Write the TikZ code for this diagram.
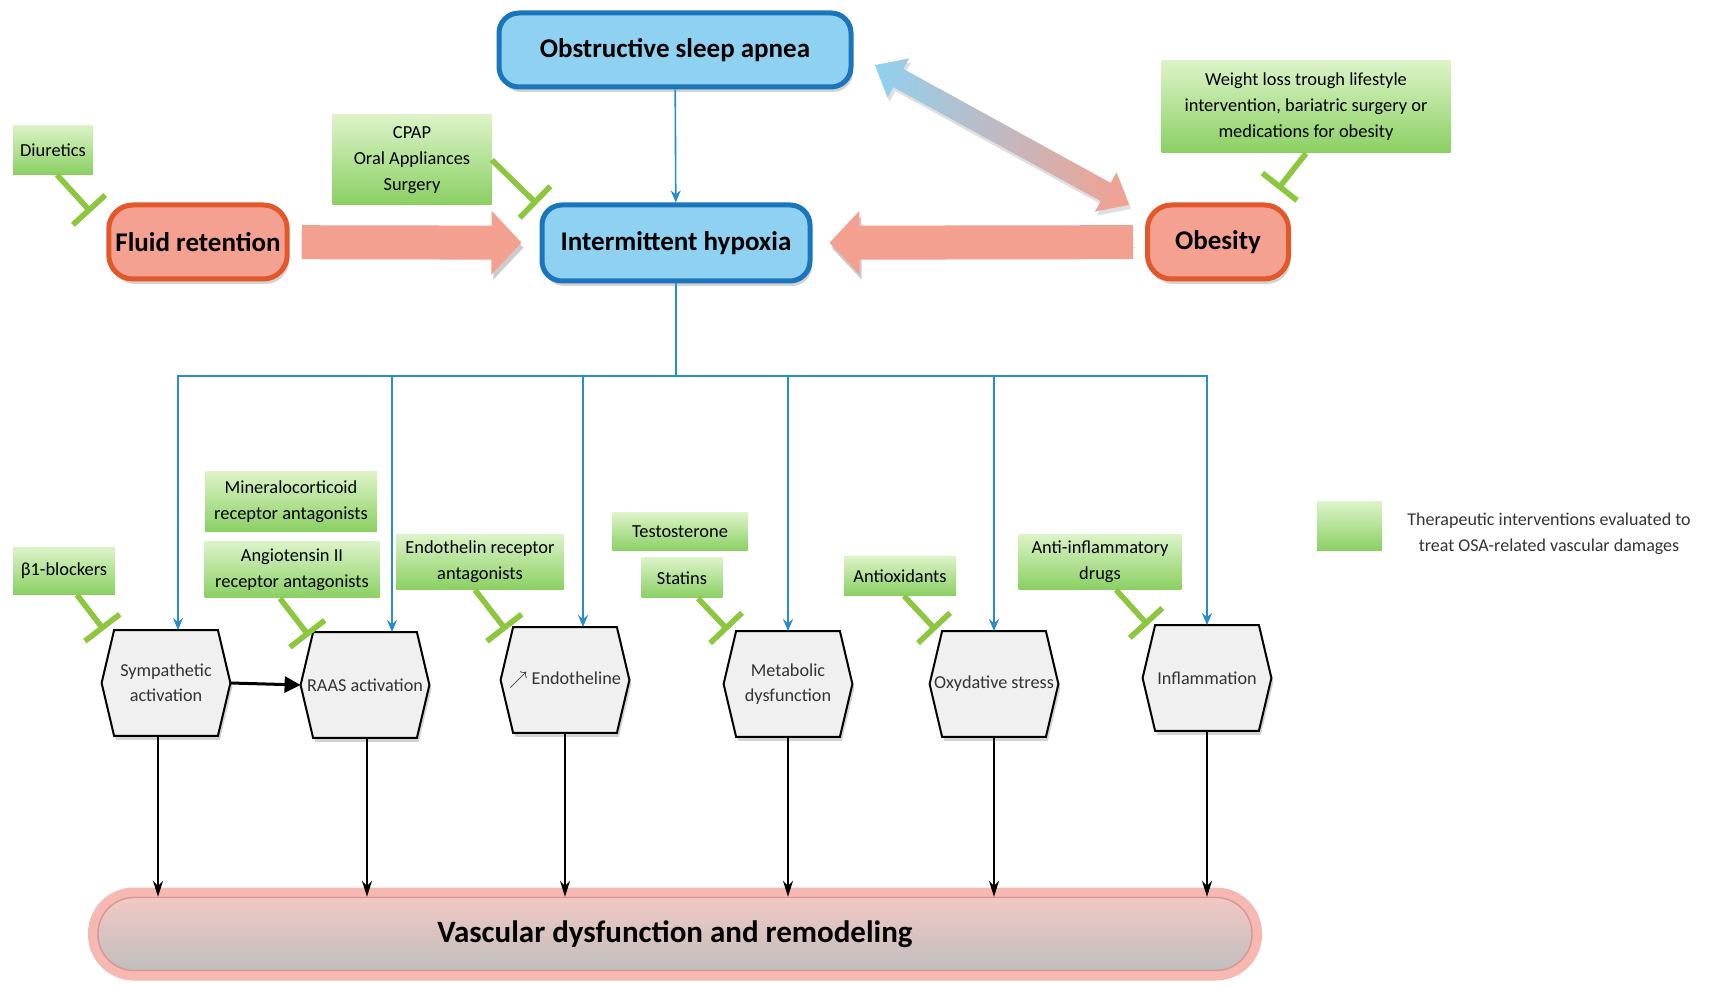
\documentclass[tikz,border=0pt]{standalone}
\usepackage{fontspec}
\setmainfont{Carlito}
\usepackage{tikz}
\usetikzlibrary{arrows.meta, shapes.arrows, shadows, backgrounds}
\definecolor{osablue}{RGB}{143, 209, 240}
\definecolor{osaedge}{RGB}{27, 117, 188}
\definecolor{riskfill}{RGB}{244, 161, 146}
\definecolor{riskedge}{RGB}{227, 88, 43}
\definecolor{fatfill}{RGB}{244, 160, 144}
\definecolor{linkblue}{RGB}{43, 140, 203}
\definecolor{txgreen}{RGB}{141, 198, 63}
\definecolor{txlight}{RGB}{220, 243, 200}
\definecolor{txdark}{RGB}{138, 208, 98}
\definecolor{hexfill}{RGB}{240, 240, 240}
\definecolor{vastop}{RGB}{242, 200, 196}
\definecolor{vasbot}{RGB}{192, 190, 190}
\definecolor{vasglow}{RGB}{245, 184, 178}
\definecolor{vasedge}{RGB}{214, 150, 146}

\begin{document}
\begin{tikzpicture}[x=0.5pt, y=-0.5pt,
	osabox/.style={draw=osaedge, line width=2.5pt, fill=osablue, rounded corners=10pt,
		font=\fontsize{13.5}{16}\selectfont\bfseries,
		drop shadow={shadow xshift=1pt, shadow yshift=-2.5pt, opacity=.35}},
	riskbox/.style={osabox, draw=riskedge, fill=riskfill, rounded corners=12pt},
	txbox/.style={top color=txlight, bottom color=txdark, align=center, inner sep=0pt,
		font=\fontsize{9.2}{13}\selectfont},
	hexa/.style={minimum width=64pt, minimum height=52.5pt, inner sep=0pt, align=center,
		text=black!80, font=\fontsize{9.1}{12.5}\selectfont},
	hexline/.style={draw=black, line width=1pt, fill=hexfill,
		drop shadow={shadow xshift=1pt, shadow yshift=-2pt, opacity=.35}},
	link/.style={draw=linkblue, line width=0.8pt},
	linkarr/.style={link, -{Stealth[length=6pt, width=5pt]}},
	down/.style={line width=1pt, -{Stealth[length=8pt, width=5pt]}},
	fat/.style={draw=fatfill, line width=17pt, -{Triangle[length=15pt, width=31pt]},
		preaction={draw=black!20, transform canvas={shift={(1pt,-2.5pt)}}}},
	inhib/.style={draw=txgreen, line width=2.8pt, -{Bar[width=22pt]}},
	]
	\useasboundingbox (0,0) rectangle (1710,989);

	% Top row
	\node[osabox, minimum width=176pt, minimum height=37pt] (osa) at (675,50) {Obstructive sleep apnea};
	\node[osabox, minimum width=134pt, minimum height=38pt] (ih) at (676,243) {Intermittent hypoxia};
	\node[riskbox, minimum width=89pt, minimum height=37pt] (fluid) at (198,242) {Fluid retention};
	\node[riskbox, minimum width=70.5pt, minimum height=37pt] (obes) at (1218,242) {Obesity};

	\node[double arrow, double arrow head extend=6pt, double arrow tip angle=80, inner sep=5pt,
		minimum height=145pt, left color=osablue, right color=fatfill, rotate=-28.8,
		drop shadow={shadow xshift=1pt, shadow yshift=-2pt, opacity=.25}] (loop) at (1002,135) {};

	\draw[fat, shorten <=6pt, shorten >=9pt] (fluid) -- (ih);
	\draw[fat, shorten <=6pt, shorten >=8.5pt] (obes) -- (ih);

	% Mechanisms
	\node[hexa] (symp) at (166,683) {Sympathetic\\activation};
	\node[hexa] (raas) at (365,685) {RAAS activation};
	\node[hexa] (endo) at (565,680) {$\nearrow$ Endotheline};
	\node[hexa] (metab) at (788,684) {Metabolic\\dysfunction};
	\node[hexa] (oxy) at (994,684) {Oxydative stress};
	\node[hexa] (infl) at (1207,678) {Inflammation};
	\begin{scope}[on background layer]
		\foreach \m in {symp, raas, endo, metab, oxy, infl} {
			\draw[hexline] (\m.west) -- ([xshift=6.25pt]\m.north west) -- ([xshift=-6.25pt]\m.north east)
				-- (\m.east) -- ([xshift=-6.25pt]\m.south east) -- ([xshift=6.25pt]\m.south west) -- cycle;
		}
	\end{scope}

	\node[draw=vasedge, line width=0.7pt, top color=vastop, bottom color=vasbot, rounded corners=18pt,
		minimum width=577pt, minimum height=36.5pt, font=\fontsize{15.5}{18}\selectfont\bfseries,
		preaction={draw=vasglow, line width=10pt}] (vasc) at (675,934) {Vascular dysfunction and remodeling};

	% Blue links
	\coordinate (bus) at (676,376);
	\draw[linkarr] (osa) -- (ih);
	\draw[link] (ih) -- (bus);
	\draw[linkarr] (bus) -| ([xshift=6pt]symp.north);
	\draw[linkarr] (bus) -| ([xshift=13.5pt]raas.north);
	\draw[linkarr] (bus) -| ([xshift=9pt]endo.north);
	\draw[linkarr] (bus) -| (metab.north);
	\draw[linkarr] (bus) -| (oxy.north);
	\draw[linkarr] (bus) -| (infl.north);

	% Black links
	\draw[line width=1.5pt, -{Triangle[length=8pt, width=8pt]}] (symp.east) -- (raas.west);
	\foreach \m/\dx in {symp/-4pt, raas/1pt, endo/0pt, metab/0pt, oxy/0pt, infl/0pt} {
		\draw[down] ([xshift=\dx]\m.south) -- ([xshift=\dx]\m.south |- vasc.north);
	}

	% Therapeutic interventions
	\node[txbox, minimum width=40pt, minimum height=24.5pt] (diur) at (53,150) {Diuretics};
	\node[txbox, minimum width=79.5pt, minimum height=45pt] (cpap) at (412,160) {CPAP\\Oral Appliances\\Surgery};
	\node[txbox, minimum width=144.5pt, minimum height=46pt] (weight) at (1306,107)
		{Weight loss trough lifestyle\\intervention, bariatric surgery or\\medications for obesity};
	\node[txbox, minimum width=51pt, minimum height=23.5pt] (beta) at (64,571) {β1-blockers};
	\node[txbox, minimum width=86pt, minimum height=30pt] (mineral) at (291,502) {Mineralocorticoid\\receptor antagonists};
	\node[txbox, minimum width=87.5pt, minimum height=28pt] (angio) at (292,570) {Angiotensin II\\receptor antagonists};
	\node[txbox, minimum width=84pt, minimum height=27.5pt] (endorec) at (480,562) {Endothelin receptor\\antagonists};
	\node[txbox, minimum width=67.5pt, minimum height=19pt] (testo) at (680,532) {Testosterone};
	\node[txbox, minimum width=40.5pt, minimum height=20pt] (statin) at (682,578) {Statins};
	\node[txbox, minimum width=56pt, minimum height=19.5pt] (antiox) at (900,576) {Antioxidants};
	\node[txbox, minimum width=81.5pt, minimum height=27.5pt] (antiinf) at (1100,562) {Anti-inflammatory\\drugs};

	% Inhibition ends
	\coordinate (diurT) at (91,212);
	\coordinate (cpapT) at (537,204);
	\coordinate (weightT) at (1278,189);
	\coordinate (betaT) at (104,630);
	\coordinate (angioT) at (309,636);
	\coordinate (endorecT) at (506,630);
	\coordinate (statinT) at (728,630);
	\coordinate (antioxT) at (936,630);
	\coordinate (antiinfT) at (1148,625);

	\draw[inhib] ([xshift=2pt]diur.south) -- (diurT);
	\draw[inhib] (cpap.east) -- (cpapT);
	\draw[inhib] (weight.south) -- (weightT);
	\draw[inhib] ([xshift=6.5pt]beta.south) -- (betaT);
	\draw[inhib] ([xshift=-6pt]angio.south) -- (angioT);
	\draw[inhib] ([xshift=-2.5pt]endorec.south) -- (endorecT);
	\draw[inhib] ([xshift=8pt]statin.south) -- (statinT);
	\draw[inhib] ([xshift=2pt]antiox.south) -- (antioxT);
	\draw[inhib] ([xshift=8pt]antiinf.south) -- (antiinfT);

	% Legend
	\node[txbox, minimum width=32.5pt, minimum height=24.5pt] (legbox) at (1349.5,526.5) {};
	\node[align=center, text=black!80, font=\fontsize{9}{13}\selectfont] (legtxt) at (1549,534)
		{Therapeutic interventions evaluated to\\treat OSA-related vascular damages};
\end{tikzpicture}
\end{document}
